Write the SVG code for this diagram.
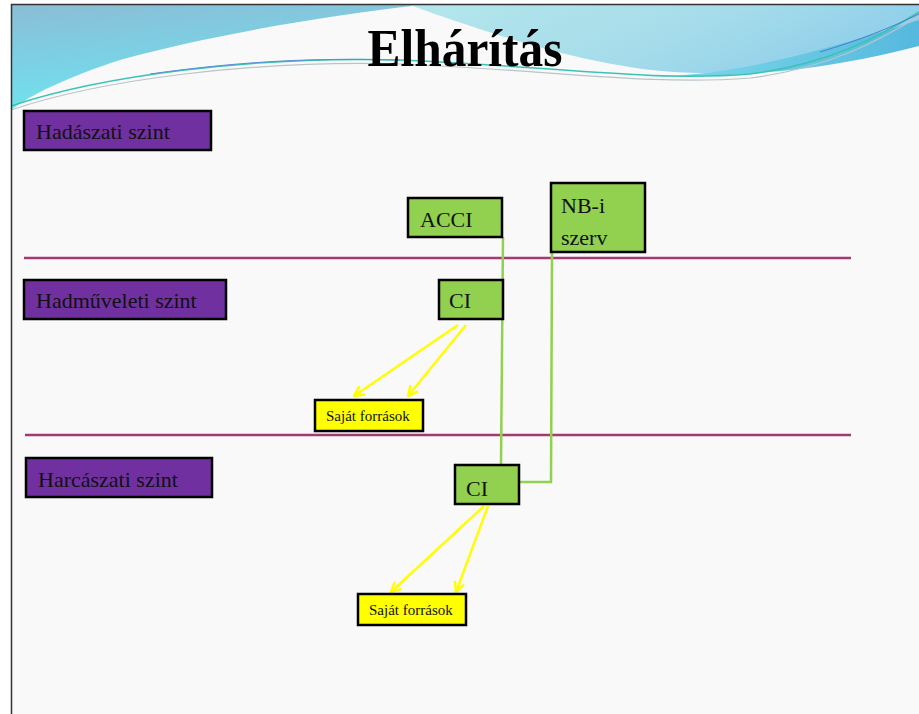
<svg xmlns="http://www.w3.org/2000/svg" width="919" height="714" viewBox="0 0 919 714">
  <defs>
    <linearGradient id="skyLeft" x1="0" y1="0" x2="0.3" y2="1">
      <stop offset="0" stop-color="#8BBDD6"/>
      <stop offset="0.6" stop-color="#79D4E6"/>
      <stop offset="1" stop-color="#6FE6EE"/>
    </linearGradient>
    <linearGradient id="skyRight" x1="0" y1="0" x2="1" y2="0.3">
      <stop offset="0" stop-color="#B4E6EC"/>
      <stop offset="0.6" stop-color="#A6DCEA"/>
      <stop offset="1" stop-color="#8FCFEA"/>
    </linearGradient>
    <linearGradient id="band" x1="0" y1="0" x2="1" y2="0">
      <stop offset="0" stop-color="#7FDDEA"/>
      <stop offset="1" stop-color="#56B8DE"/>
    </linearGradient>
    <marker id="arrowOpen" viewBox="0 0 12 12" refX="11" refY="6" markerWidth="12" markerHeight="12" markerUnits="userSpaceOnUse" orient="auto">
      <path d="M1,1 L11,6 L1,11" fill="none" stroke="#FFFF00" stroke-width="2.5"/>
    </marker>
    <style>
      .lvl { fill: #7030A0; stroke: #000; stroke-width: 2.5; }
      .unit { fill: #92D050; stroke: #000; stroke-width: 2.5; }
      .src { fill: #FFFF00; stroke: #000; stroke-width: 2.5; }
      .lbl { font-family: "Liberation Serif", "Times New Roman", serif; font-size: 22px; fill: #111; }
      .small { font-family: "Liberation Serif", "Times New Roman", serif; font-size: 15px; fill: #111; }
      .sep { stroke: #A33B72; stroke-width: 2.5; }
      .link { fill: none; stroke: #92D050; stroke-width: 2.5; }
      .feed { stroke: #FFFF00; stroke-width: 2.5; marker-end: url(#arrowOpen); }
    </style>
  </defs>

  <!-- page -->
  <rect x="0" y="0" width="919" height="714" fill="#FFFFFF"/>
  <rect x="11" y="4" width="908" height="710" fill="#F9F9F9"/>

  <!-- header waves -->
  <g id="header">
    <path d="M11,5 H420 C330,15 210,35 120,60 C70,76 30,95 11,110 Z" fill="url(#skyLeft)"/>
    <path d="M410,5 H919 V32 C860,48 790,70 705,73 C620,74 520,45 410,5 Z" fill="url(#skyRight)"/>
    <path d="M640,76 C720,78 800,58 919,20 V46 C850,64 780,74 705,76 C680,77 660,77 640,76 Z" fill="url(#band)"/>
    <path d="M11,106 C100,76 250,56 400,60 C550,66 650,82 750,74 C830,64 880,36 919,12" fill="none" stroke="#3DC3B5" stroke-width="1.5"/>
    <path d="M11,110 C100,80 250,60 400,64 C550,70 650,86 750,78 C830,68 880,40 919,16" fill="none" stroke="#B9C4C8" stroke-width="1.2"/>
    <path d="M150,74 C250,60 320,58 400,60" fill="none" stroke="#5C8FD6" stroke-width="1"/>
    <path d="M820,52 C860,40 890,28 919,14" fill="none" stroke="#4A7FD0" stroke-width="1"/>
  </g>

  <!-- frame -->
  <path d="M11.5,714 V4.5 H919" fill="none" stroke="#333" stroke-width="1.5"/>

  <text x="465" y="66" text-anchor="middle" font-family="Liberation Serif, Times New Roman, serif" font-size="52" font-weight="bold" fill="#000" textLength="195" lengthAdjust="spacingAndGlyphs">Elhárítás</text>

  <!-- level separators -->
  <g id="separators">
    <line class="sep" x1="24" y1="258" x2="851" y2="258"/>
    <line class="sep" x1="25" y1="435" x2="851" y2="435"/>
  </g>

  <!-- connectors -->
  <g id="connectors">
    <path class="link" d="M503,237 L501,465"/>
    <path class="link" d="M552,252 L551,482 L519,482"/>
    <line class="feed" x1="458" y1="325" x2="354" y2="396"/>
    <line class="feed" x1="466" y1="325" x2="408" y2="396"/>
    <line class="feed" x1="484" y1="506" x2="391" y2="592"/>
    <line class="feed" x1="488" y1="506" x2="456" y2="592"/>
  </g>

  <g id="hadaszati">
    <rect class="lvl" x="24" y="111" width="187" height="39"/>
    <text class="lbl" x="36" y="139">Hadászati szint</text>
  </g>
  <g id="hadmuveleti">
    <rect class="lvl" x="24" y="280" width="202" height="39"/>
    <text class="lbl" x="36" y="308">Hadműveleti szint</text>
  </g>
  <g id="harcaszati">
    <rect class="lvl" x="26" y="458" width="186" height="39"/>
    <text class="lbl" x="38" y="487">Harcászati szint</text>
  </g>

  <g id="acci">
    <rect class="unit" x="408" y="198" width="94" height="39"/>
    <text class="lbl" x="420" y="227">ACCI</text>
  </g>
  <g id="nbi-szerv">
    <rect class="unit" x="551" y="183" width="94" height="69"/>
    <text class="lbl" x="561" y="213">NB-i</text>
    <text class="lbl" x="561" y="245">szerv</text>
  </g>
  <g id="ci-upper">
    <rect class="unit" x="439" y="280" width="64" height="39"/>
    <text class="lbl" x="449" y="308">CI</text>
  </g>
  <g id="ci-lower">
    <rect class="unit" x="455" y="465" width="64" height="39"/>
    <text class="lbl" x="466" y="496">CI</text>
  </g>

  <g id="sajat-upper">
    <rect class="src" x="315" y="400" width="108" height="31"/>
    <text class="small" x="326" y="421">Saját források</text>
  </g>
  <g id="sajat-lower">
    <rect class="src" x="358" y="594" width="108" height="31"/>
    <text class="small" x="369" y="615">Saját források</text>
  </g>
</svg>
